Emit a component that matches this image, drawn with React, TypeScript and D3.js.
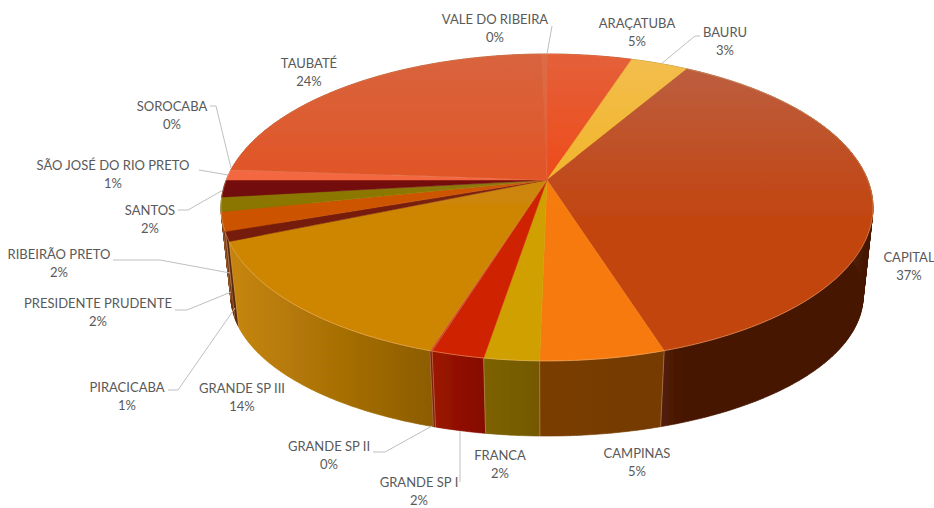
import React from "react";
import * as d3 from "d3";

const categories = ["ARAÇATUBA","BAURU","CAPITAL","CAMPINAS","FRANCA","GRANDE SP I","GRANDE SP II","GRANDE SP III","PIRACICABA","PRESIDENTE PRUDENTE","RIBEIRÃO PRETO","SANTOS","SÃO JOSÉ DO RIO PRETO","SOROCABA","TAUBATÉ","VALE DO RIBEIRA"];
const values = [5.0,3.4,36.7,5.2,2.3,2.2,0.1,13.8,1.0,2.0,1.5,1.8,1.1,0.05,23.5,0.35];
const percentLabels = ["5%","3%","37%","5%","2%","2%","0%","14%","1%","2%","2%","2%","1%","0%","24%","0%"];

const topColors = [["#E4603A","#F2440F"],["#F3BE4E","#F0B21E"],["#BC6044","#C2440F"],["#F27F1E","#F67A0E"],["#D2A416","#CFA000"],["#C8300E","#CE2200"],["#D05030","#D05030"],["#C9893A","#CE8500"],["#8A3A20","#761C08"],["#D8661E","#CC5200"],["#9C8A20","#887400"],["#861C18","#6E0604"],["#F47858","#F26038"],["#E88060","#E88060"],["#D8643E","#E4501E"],["#DC6C46","#E8582A"]];
const sideColors = [["#8A2A08","#8A2A08"],["#8A6A10","#8A6A10"],["#52200A","#471500"],["#7A3E06","#743A04"],["#7C6202","#745800"],["#9A1400","#840C00"],["#7A2410","#7A2410"],["#C48408","#8C5C04"],["#5A2A0A","#5A2A0A"],["#70300A","#70300A"],["#5A4A08","#5A4A08"],["#4A0808","#4A0808"],["#8A3020","#8A3020"],["#8A3020","#8A3020"],["#8A3A18","#8A3A18"],["#8A3A18","#8A3A18"]];

// label anchor: centre x, first line centre y
const labelX = [637,725,909,637,500,419,329,242,127,98,59,150,113,172,309,495];
const labelY = [23,32,257,453,455,482,446,388,387,303,254,210,165,106,63,19];
const leaders: string[] = [
  "","661,64 695,36 700,36","","","","460,431 460,482","373,452 385,452 432,426","",
  "168,390 178,390 235,308","175,310 187,310 231,292","113,260 160,260 230,273","178,210 188,210 223,190",
  "199,170 228,175","210,106 216,106 231,168","","547,54 552,26"
];

const K = -0.179;
const CX = 547;
const rimTop = (a: number): [number, number] => {
  const u = Math.sin(a), v = -Math.cos(a), w = 1 + K * v;
  return [CX + 320.7 * u / w, (180 + 116.3 * v) / w];
};
const rimBottom = (a: number): [number, number] => {
  const u = Math.sin(a), v = -Math.cos(a), w = 1 + K * v;
  return [CX + 311 * u / w, (271 + 87 * v) / w];
};
const arcPts = (a0: number, a1: number, f: (a: number) => [number, number]) => {
  const n = Math.max(2, Math.ceil((a1 - a0) / 0.01));
  return d3.range(n + 1).map(i => f(a0 + (a1 - a0) * i / n));
};
const line = d3.line();

export default function App() {
  const arcs = d3.pie<number>().sort(null).startAngle(0).endAngle(2 * Math.PI)(values);
  const order = arcs.map((d, i) => ({ d, i })).sort((p, q) => rimTop((p.d.startAngle + p.d.endAngle) / 2)[1] - rimTop((q.d.startAngle + q.d.endAngle) / 2)[1]);
  return (
    <svg width={934} height={508} style={{ position: "absolute", left: 0, top: 0 }} fontFamily="Lato, Carlito, sans-serif">
      <defs>
        <filter id="soft" x="-5%" y="-5%" width="110%" height="110%"><feGaussianBlur stdDeviation="0.6" /></filter>
        {arcs.map((d, i) => {
          const a = rimBottom(d.startAngle), b = rimBottom(d.endAngle);
          const x1 = Math.min(a[0], b[0]), x2 = Math.max(a[0], b[0]);
          return (
            <React.Fragment key={i}>
              <linearGradient id={`t${i}`} gradientUnits="userSpaceOnUse" x1={0} x2={0} y1={54} y2={361}>
                <stop offset="0" stopColor={topColors[i][0]} />
                <stop offset="0.55" stopColor={topColors[i][1]} />
              </linearGradient>
              <linearGradient id={`s${i}`} gradientUnits="userSpaceOnUse" x1={x1} x2={x2 + 0.01} y1={0} y2={0}>
                <stop offset="0" stopColor={sideColors[i][0]} />
                <stop offset="1" stopColor={sideColors[i][1]} />
              </linearGradient>
            </React.Fragment>
          );
        })}
      </defs>
      <g filter="url(#soft)">
        {order.map(({ d, i }) => {
          const t = arcPts(d.startAngle, d.endAngle, rimTop);
          const b = arcPts(d.startAngle, d.endAngle, rimBottom);
          const quads = d3.range(t.length - 1).map(j => line([t[j], t[j + 1], b[j + 1], b[j]])! + "Z").join("");
          return <path key={i} d={quads} fill={`url(#s${i})`} stroke={`url(#s${i})`} strokeWidth={0.6} />;
        })}
        {order.filter(o => { const m = (o.d.startAngle + o.d.endAngle) / 2; return m > 1.4 && m < 4.6; }).map(({ d, i }) => {
          const p0 = rimTop(d.endAngle), p1 = rimBottom(d.endAngle);
          return <path key={i} d={line([p0, p1])!} stroke="#D9A070" strokeOpacity={0.45} strokeWidth={1} fill="none" />;
        })}
        {arcs.map((d, i) => {
          const t = arcPts(d.startAngle, d.endAngle, rimTop);
          const m = (d.startAngle + d.endAngle) / 2;
          const front = m > 1.3 && m < 4.9;
          return (
            <g key={i}>
              <path d={line([[CX, 180], ...t])! + "Z"} fill={`url(#t${i})`} stroke={`url(#t${i})`} strokeWidth={0.5} />
              <path d={line(t)!} fill="none" stroke="#F6C080" strokeOpacity={front ? 0.45 : 0.15} strokeWidth={1} />
            </g>
          );
        })}
      </g>
      {leaders.map((p, i) => p && <polyline key={i} points={p} fill="none" stroke="#BFBFBF" strokeWidth={1} />)}
      {categories.map((c, i) => (
        <text key={c} x={labelX[i]} y={labelY[i]} textAnchor="middle" fontSize={13} fill="#595959">
          <tspan x={labelX[i]} dy="0.36em">{c}</tspan>
          <tspan x={labelX[i]} dy="18.5">{percentLabels[i]}</tspan>
        </text>
      ))}
    </svg>
  );
}
